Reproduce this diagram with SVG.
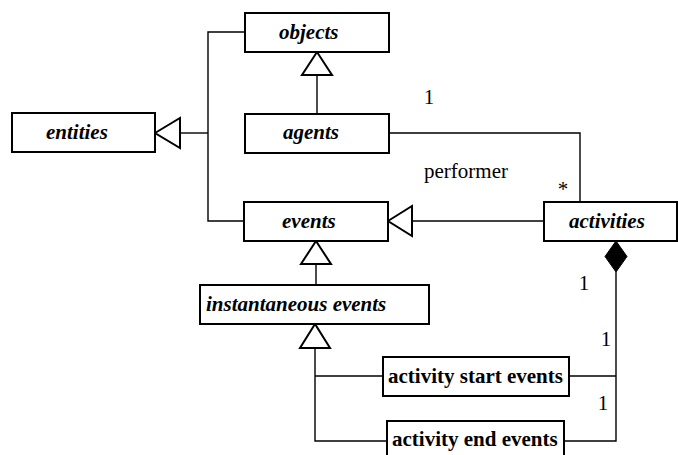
<svg xmlns="http://www.w3.org/2000/svg" width="678" height="455" viewBox="0 0 678 455">
<style>
.box{fill:#fff;stroke:#000;stroke-width:2}
.t{font-family:"Liberation Serif","Times New Roman",serif;font-size:21px;fill:#000}
.bi{font-weight:bold;font-style:italic}
.b{font-weight:bold}
.c{fill:none;stroke:#000;stroke-width:1.4}
.tri{fill:#fff;stroke:#000;stroke-width:2}
</style>
<rect width="678" height="455" fill="#fff"/>
<g id="connectors">
<polyline class="c" points="245,32 208,32 208,221 245,221"/>
<line class="c" x1="180" y1="133" x2="208" y2="133"/>
<polygon class="tri" points="155,133 180,118 180,148"/>
<line class="c" x1="317" y1="75" x2="317" y2="114"/>
<polygon class="tri" points="317,52 302,75 332,75"/>
<line class="c" x1="412" y1="221" x2="544" y2="221"/>
<polygon class="tri" points="388,221 412,206 412,236"/>
<polyline class="c" points="389,133 580,133 580,202"/>
<line class="c" x1="316" y1="264" x2="316" y2="285"/>
<polygon class="tri" points="316,241 301,264 331,264"/>
<polyline class="c" points="315,348 315,441 387,441"/>
<line class="c" x1="315" y1="376" x2="383" y2="376"/>
<polygon class="tri" points="315,324 300,348 330,348"/>
<polyline class="c" points="616,272 616,441 565,441"/>
<line class="c" x1="569" y1="376" x2="616" y2="376"/>
<polygon points="616,241 627,256.5 616,272 605,256.5" fill="#000" stroke="#000" stroke-width="1"/>
<text class="t" x="429" y="104" text-anchor="middle">1</text>
<text class="t" x="424" y="178">performer</text>
<text class="t" x="563" y="196" text-anchor="middle" font-size="15">*</text>
<text class="t" x="584" y="290" text-anchor="middle">1</text>
<text class="t" x="606" y="346" text-anchor="middle">1</text>
<text class="t" x="603" y="410" text-anchor="middle">1</text>
</g>
<g id="objects"><rect class="box" x="245" y="13" width="144" height="39"/><text class="t bi" x="279" y="39">objects</text></g>
<g id="entities"><rect class="box" x="12" y="113" width="143" height="39"/><text class="t bi" x="46" y="139">entities</text></g>
<g id="agents"><rect class="box" x="245" y="114" width="144" height="39"/><text class="t bi" x="283" y="139">agents</text></g>
<g id="events"><rect class="box" x="244" y="202" width="144" height="39"/><text class="t bi" x="282" y="228">events</text></g>
<g id="activities"><rect class="box" x="544" y="202" width="133" height="39"/><text class="t bi" x="569" y="228">activities</text></g>
<g id="instantaneous-events"><rect class="box" x="200" y="285" width="229" height="39"/><text class="t bi" x="206" y="311">instantaneous events</text></g>
<g id="activity-start-events"><rect class="box" x="383" y="357" width="186" height="39"/><text class="t b" x="388" y="383">activity start events</text></g>
<g id="activity-end-events"><rect class="box" x="387" y="421" width="177" height="39"/><text class="t b" x="392" y="446">activity end events</text></g>
</svg>
